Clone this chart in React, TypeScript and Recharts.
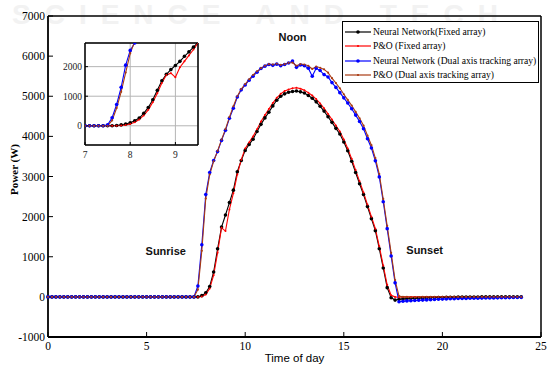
import React from 'react';
import { LineChart, Line, XAxis, YAxis, CartesianGrid, ReferenceDot } from 'recharts';

// Time of day (hours), one sample every 0.2 h
const TIME = [
  0, 0.2, 0.4, 0.6, 0.8,
  1, 1.2, 1.4, 1.6, 1.8,
  2, 2.2, 2.4, 2.6, 2.8,
  3, 3.2, 3.4, 3.6, 3.8,
  4, 4.2, 4.4, 4.6, 4.8,
  5, 5.2, 5.4, 5.6, 5.8,
  6, 6.2, 6.4, 6.6, 6.8,
  7, 7.2, 7.4, 7.6, 7.8,
  8, 8.2, 8.4, 8.6, 8.8,
  9, 9.2, 9.4, 9.6, 9.8,
  10, 10.2, 10.4, 10.6, 10.8,
  11, 11.2, 11.4, 11.6, 11.8,
  12, 12.2, 12.4, 12.6, 12.8,
  13, 13.2, 13.4, 13.6, 13.8,
  14, 14.2, 14.4, 14.6, 14.8,
  15, 15.2, 15.4, 15.6, 15.8,
  16, 16.2, 16.4, 16.6, 16.8,
  17, 17.2, 17.4, 17.6, 17.8,
  18, 18.2, 18.4, 18.6, 18.8,
  19, 19.2, 19.4, 19.6, 19.8,
  20, 20.2, 20.4, 20.6, 20.8,
  21, 21.2, 21.4, 21.6, 21.8,
  22, 22.2, 22.4, 22.6, 22.8,
  23, 23.2, 23.4, 23.6, 23.8,
  24,
];

// Neural Network (Fixed array) - black
const NN_FIXED = [
  0, 0, 0, 0, 0,
  0, 0, 0, 0, 0,
  0, 0, 0, 0, 0,
  0, 0, 0, 0, 0,
  0, 0, 0, 0, 0,
  0, 0, 0, 0, 0,
  0, 0, 0, 0, 0,
  0, 0, 0, 0, 30,
  100, 260, 620, 1200, 1740,
  2040, 2350, 2660, 3120, 3400,
  3650, 3800, 3930, 4120, 4300,
  4460, 4600, 4760, 4900, 5000,
  5060, 5100, 5120, 5130, 5110,
  5080, 5020, 4950, 4860, 4750,
  4630, 4490, 4350, 4200, 4060,
  3860, 3640, 3380, 3100, 2820,
  2550, 2250, 1950, 1650, 1200,
  720, 230, -20, -80, -60,
  -50, -45, -40, -35, -30,
  -28, -25, -22, -20, -18,
  -15, -12, -10, -8, -6,
  -5, -4, -3, -2, -2,
  -1, 0, 0, 0, 0,
  0, 0, 0, 0, 0,
  0,
];

// P&O (Fixed array) - red
const PO_FIXED = [
  0, 0, 0, 0, 0,
  0, 0, 0, 0, 0,
  0, 0, 0, 0, 0,
  0, 0, 0, 0, 0,
  0, 0, 0, 0, 0,
  0, 0, 0, 0, 0,
  0, 0, 0, 0, 0,
  0, 0, 0, 0, 10,
  60, 210, 540, 1100, 1720,
  1640, 2180, 2580, 3050, 3420,
  3700, 3850, 4000, 4180, 4370,
  4530, 4680, 4830, 4960, 5060,
  5130, 5170, 5200, 5210, 5190,
  5150, 5090, 5020, 4930, 4820,
  4700, 4560, 4420, 4270, 4120,
  3920, 3700, 3440, 3160, 2880,
  2600, 2300, 2000, 1700, 1260,
  780, 300, 40, 0, -10,
  0, 0, 0, 0, 0,
  0, 0, 0, 0, 0,
  0, 0, 0, 0, 0,
  0, 0, 0, 0, 0,
  0, 0, 0, 0, 0,
  0, 0, 0, 0, 0,
  0,
];

// Neural Network (Dual axis tracking array) - blue
const NN_DUAL = [
  0, 0, 0, 0, 0,
  0, 0, 0, 0, 0,
  0, 0, 0, 0, 0,
  0, 0, 0, 0, 0,
  0, 0, 0, 0, 0,
  0, 0, 0, 0, 0,
  0, 0, 0, 0, 0,
  0, 0, 0, 270, 1300,
  2550, 3100, 3400, 3620, 3900,
  4150, 4450, 4700, 4980, 5160,
  5280, 5400, 5500, 5600, 5690,
  5750, 5790, 5770, 5800, 5760,
  5790, 5830, 5880, 5720, 5780,
  5760, 5700, 5500, 5700, 5640,
  5540, 5480, 5340, 5220, 5090,
  4960, 4830, 4690, 4530, 4370,
  4190, 3940, 3710, 3390, 2990,
  2370, 1700, 1020, 350, -120,
  -110, -100, -95, -90, -85,
  -80, -75, -70, -65, -60,
  -55, -50, -48, -45, -42,
  -40, -38, -36, -34, -32,
  -30, -28, -26, -25, -24,
  -22, -20, -18, -16, -14,
  -12,
];

// P&O (Dual axis tracking array) - brown
const PO_DUAL = [
  0, 0, 0, 0, 0,
  0, 0, 0, 0, 0,
  0, 0, 0, 0, 0,
  0, 0, 0, 0, 0,
  0, 0, 0, 0, 0,
  0, 0, 0, 0, 0,
  0, 0, 0, 0, 0,
  0, 0, 0, 180, 1150,
  2450, 3050, 3380, 3640, 3920,
  4180, 4480, 4750, 5000, 5180,
  5300, 5420, 5530, 5620, 5700,
  5760, 5800, 5790, 5810, 5780,
  5800, 5830, 5840, 5760, 5800,
  5790, 5760, 5680, 5740, 5710,
  5670, 5590, 5450, 5330, 5200,
  5050, 4910, 4770, 4610, 4450,
  4270, 4020, 3780, 3460, 3060,
  2440, 1770, 1100, 420, 20,
  0, 0, -10, -10, -5,
  0, 0, 0, 0, 0,
  0, 0, 0, 0, 0,
  0, 0, 0, 0, 0,
  0, 0, 0, 0, 0,
  0, 0, 0, 0, 0,
  0,
];

// Inset (zoom of sunrise), one sample every 0.1 h
const INSET_TIME = [
  7, 7.1, 7.2, 7.3, 7.4, 7.5, 7.6, 7.7, 7.8, 7.9,
  8, 8.1, 8.2, 8.3, 8.4, 8.5, 8.6, 8.7, 8.8, 8.9,
  9, 9.1, 9.2, 9.3, 9.4, 9.5,
];
const INSET_NN_FIXED = [
  0, 0, 0, 0, 0, 0, 0, 10, 30, 60,
  100, 170, 260, 420, 620, 880, 1200, 1520, 1740, 1900,
  2040, 2180, 2350, 2500, 2660, 2820,
];
const INSET_PO_FIXED = [
  0, 0, 0, 0, 0, 0, 0, 0, 10, 30,
  60, 120, 210, 350, 540, 800, 1100, 1450, 1720, 1780,
  1640, 1980, 2180, 2380, 2580, 2800,
];
const INSET_NN_DUAL = [
  0, 0, 0, 0, 0, 30, 270, 720, 1300, 2050,
  2550, 2800, 3100, 3250, 3400, 3500, 3620, 3760, 3900, 4020,
  4150, 4300, 4450, 4580, 4700, 4850,
];
const INSET_PO_DUAL = [
  0, 0, 0, 0, 0, 0, 180, 600, 1150, 1800,
  2450, 2850, 3050, 3220, 3380, 3500, 3640, 3780, 3920, 4050,
  4180, 4330, 4480, 4620, 4750, 4880,
];

const X_TICKS = [0, 5, 10, 15, 20, 25];
const Y_TICKS = [-1000, 0, 1000, 2000, 3000, 4000, 5000, 6000, 7000];
const INSET_X_TICKS = [7, 8, 9];
const INSET_Y_TICKS = [0, 1000, 2000];

const SERIES_NAMES = [
  'Neural Network(Fixed array)',
  'P&O (Fixed array)',
  'Neural Network (Dual axis tracking array)',
  'P&O (Dual axis tracking array)',
];

const ANNOTATIONS = [
  { t: 12.4, p: 6480, text: 'Noon' },
  { t: 5.97, p: 1150, text: 'Sunrise' },
  { t: 19.1, p: 1170, text: 'Sunset' },
];

const BLACK = '#000000';
const RED = '#ff0000';
const BLUE = '#0000ff';
const BROWN = '#a83a12';
const COLORS = [BLACK, RED, BLUE, BROWN];

const mainData = TIME.map((t, i) => ({
  t,
  nnFixed: NN_FIXED[i],
  poFixed: PO_FIXED[i],
  nnDual: NN_DUAL[i],
  poDual: PO_DUAL[i],
}));

const insetData = INSET_TIME.map((t, i) => ({
  t,
  nnFixed: INSET_NN_FIXED[i],
  poFixed: INSET_PO_FIXED[i],
  nnDual: INSET_NN_DUAL[i],
  poDual: INSET_PO_DUAL[i],
}));

const SERIF = 'Liberation Serif';
const SANS = 'Liberation Sans';

const dotStyle = (color: string, r: number) => ({ r, fill: color, stroke: color, strokeWidth: 0 });

function Legend() {
  const rows = [10, 24, 38.5, 52.5];
  return (
    <div
      style={{
        position: 'absolute',
        left: 342,
        top: 21,
        width: 197,
        height: 62,
        boxSizing: 'border-box',
        border: '1px solid #000',
        background: '#fff',
        fontFamily: SERIF,
        fontSize: 9.6,
        color: '#000',
      }}
    >
      {SERIES_NAMES.map((name, i) => (
        <div key={name} style={{ position: 'absolute', left: 2, top: rows[i] - 7, height: 14, display: 'flex', alignItems: 'center', whiteSpace: 'nowrap', fontFamily: SERIF, fontSize: 9.6 }}>
          <svg width={26} height={14} style={{ display: 'block' }}>
            <line x1={0} y1={7} x2={26} y2={7} stroke={COLORS[i]} strokeWidth={1.2} />
            <circle cx={13} cy={7} r={i === 0 || i === 2 ? 1.8 : 1.1} fill={COLORS[i]} />
          </svg>
          <span style={{ marginLeft: 2, lineHeight: '14px', fontFamily: SERIF }}>{name}</span>
        </div>
      ))}
    </div>
  );
}

function YLabel(props: any) {
  const vb = props.viewBox || { x: 0, y: 16, width: 48, height: 321 };
  const cx = vb.x + 14;
  const cy = vb.y + vb.height / 2 - 7;
  return (
    <text
      x={cx}
      y={cy}
      transform={`rotate(-90 ${cx} ${cy})`}
      textAnchor="middle"
      dominantBaseline="central"
      fontFamily={SERIF}
      fontWeight="bold"
      fontSize={11}
      fill="#000"
    >
      Power (W)
    </text>
  );
}

export default function App() {
  const tickFont = { fontSize: 11.5, fontFamily: SERIF, fill: '#000' };
  const insetTickFont = { fontSize: 9.5, fontFamily: SERIF, fill: '#222' };
  return (
    <div style={{ position: 'absolute', left: 0, top: 0, width: 547, height: 371, background: '#fff', overflow: 'hidden', fontFamily: SERIF }}>
      <div
        style={{
          position: 'absolute',
          left: 12,
          top: 0,
          fontFamily: SANS,
          fontWeight: 'bold',
          fontSize: 28,
          lineHeight: '30px',
          letterSpacing: 14,
          color: '#f2f2f2',
          whiteSpace: 'nowrap',
        }}
      >
        SCIENCE AND TECH
      </div>
      <div style={{ position: 'absolute', left: 0, top: 0 }}>
        <LineChart width={547} height={371} data={mainData} margin={{ top: 15, right: 5, bottom: 0, left: 0 }} style={{ fontFamily: SERIF }}>
          <XAxis
            dataKey="t"
            type="number"
            domain={[0, 25]}
            ticks={X_TICKS}
            height={34}
            tick={tickFont}
            tickSize={-5}
            tickMargin={10}
            axisLine={{ stroke: '#000', strokeWidth: 1.8 }}
            tickLine={{ stroke: '#000' }}
            interval={0}
            label={{ value: 'Time of day', position: 'insideBottom', offset: 9, fontFamily: SANS, fontSize: 11.5, fill: '#000' }}
          />
          <XAxis
            xAxisId="top"
            orientation="top"
            dataKey="t"
            type="number"
            domain={[0, 25]}
            ticks={X_TICKS}
            height={1}
            tick={false}
            tickSize={-5}
            axisLine={{ stroke: '#000', strokeWidth: 1.5 }}
            tickLine={{ stroke: '#000' }}
          />
          <YAxis
            type="number"
            domain={[-1000, 7000]}
            ticks={Y_TICKS}
            width={48}
            tick={tickFont}
            tickSize={-5}
            tickMargin={8}
            axisLine={{ stroke: '#000', strokeWidth: 1.8 }}
            tickLine={{ stroke: '#000' }}
            interval={0}
            label={{ content: <YLabel /> }}
          />
          <YAxis
            yAxisId="right"
            orientation="right"
            type="number"
            domain={[-1000, 7000]}
            ticks={Y_TICKS}
            width={1}
            tick={false}
            tickSize={-5}
            axisLine={{ stroke: '#000', strokeWidth: 1.5 }}
            tickLine={{ stroke: '#000' }}
          />
          <Line dataKey="nnFixed" stroke={BLACK} strokeWidth={1.1} dot={dotStyle(BLACK, 1.8)} isAnimationActive={false} />
          <Line dataKey="poFixed" stroke={RED} strokeWidth={1.1} dot={dotStyle(RED, 1)} isAnimationActive={false} />
          <Line dataKey="nnDual" stroke={BLUE} strokeWidth={1.1} dot={dotStyle(BLUE, 1.8)} isAnimationActive={false} />
          <Line dataKey="poDual" stroke={BROWN} strokeWidth={1.1} dot={dotStyle(BROWN, 1.1)} isAnimationActive={false} />
          {ANNOTATIONS.map((a) => (
            <ReferenceDot
              key={a.text}
              x={a.t}
              y={a.p}
              r={0}
              fill="none"
              stroke="none"
              label={{ value: a.text, position: 'center', fontFamily: SANS, fontWeight: 'bold', fontSize: 11, fill: '#111' }}
            />
          ))}
        </LineChart>
      </div>
      <div style={{ position: 'absolute', left: 60, top: 38 }}>
        <LineChart width={145} height={125} data={insetData} margin={{ top: 4, right: 6, bottom: 0, left: 0 }} style={{ background: '#fff', fontFamily: SERIF }}>
          <CartesianGrid stroke="#b4b4b4" strokeWidth={1} />
          <XAxis
            dataKey="t"
            type="number"
            domain={[7, 9.5]}
            ticks={INSET_X_TICKS}
            allowDataOverflow
            height={18}
            tick={insetTickFont}
            tickSize={-3}
            tickMargin={9}
            axisLine={{ stroke: '#000', strokeWidth: 1.5 }}
            tickLine={{ stroke: '#000' }}
            interval={0}
          />
          <XAxis
            xAxisId="top"
            orientation="top"
            dataKey="t"
            type="number"
            domain={[7, 9.5]}
            ticks={INSET_X_TICKS}
            allowDataOverflow
            height={1}
            tick={false}
            tickSize={-3}
            axisLine={{ stroke: '#000', strokeWidth: 1.5 }}
            tickLine={{ stroke: '#000' }}
          />
          <YAxis
            type="number"
            domain={[-650, 2800]}
            ticks={INSET_Y_TICKS}
            allowDataOverflow
            width={25}
            tick={insetTickFont}
            tickSize={-3}
            tickMargin={6}
            axisLine={{ stroke: '#000', strokeWidth: 1.5 }}
            tickLine={{ stroke: '#000' }}
            interval={0}
          />
          <YAxis
            yAxisId="right"
            orientation="right"
            type="number"
            domain={[-650, 2800]}
            ticks={INSET_Y_TICKS}
            allowDataOverflow
            width={1}
            tick={false}
            tickSize={-3}
            axisLine={{ stroke: '#000', strokeWidth: 1.5 }}
            tickLine={{ stroke: '#000' }}
          />
          <Line dataKey="nnFixed" stroke={BLACK} strokeWidth={1.1} dot={dotStyle(BLACK, 1.8)} isAnimationActive={false} />
          <Line dataKey="poFixed" stroke={RED} strokeWidth={1.1} dot={dotStyle(RED, 1)} isAnimationActive={false} />
          <Line dataKey="nnDual" stroke={BLUE} strokeWidth={1.1} dot={dotStyle(BLUE, 1.8)} isAnimationActive={false} />
          <Line dataKey="poDual" stroke={BROWN} strokeWidth={1.1} dot={dotStyle(BROWN, 1.1)} isAnimationActive={false} />
        </LineChart>
      </div>
      <Legend />
    </div>
  );
}
